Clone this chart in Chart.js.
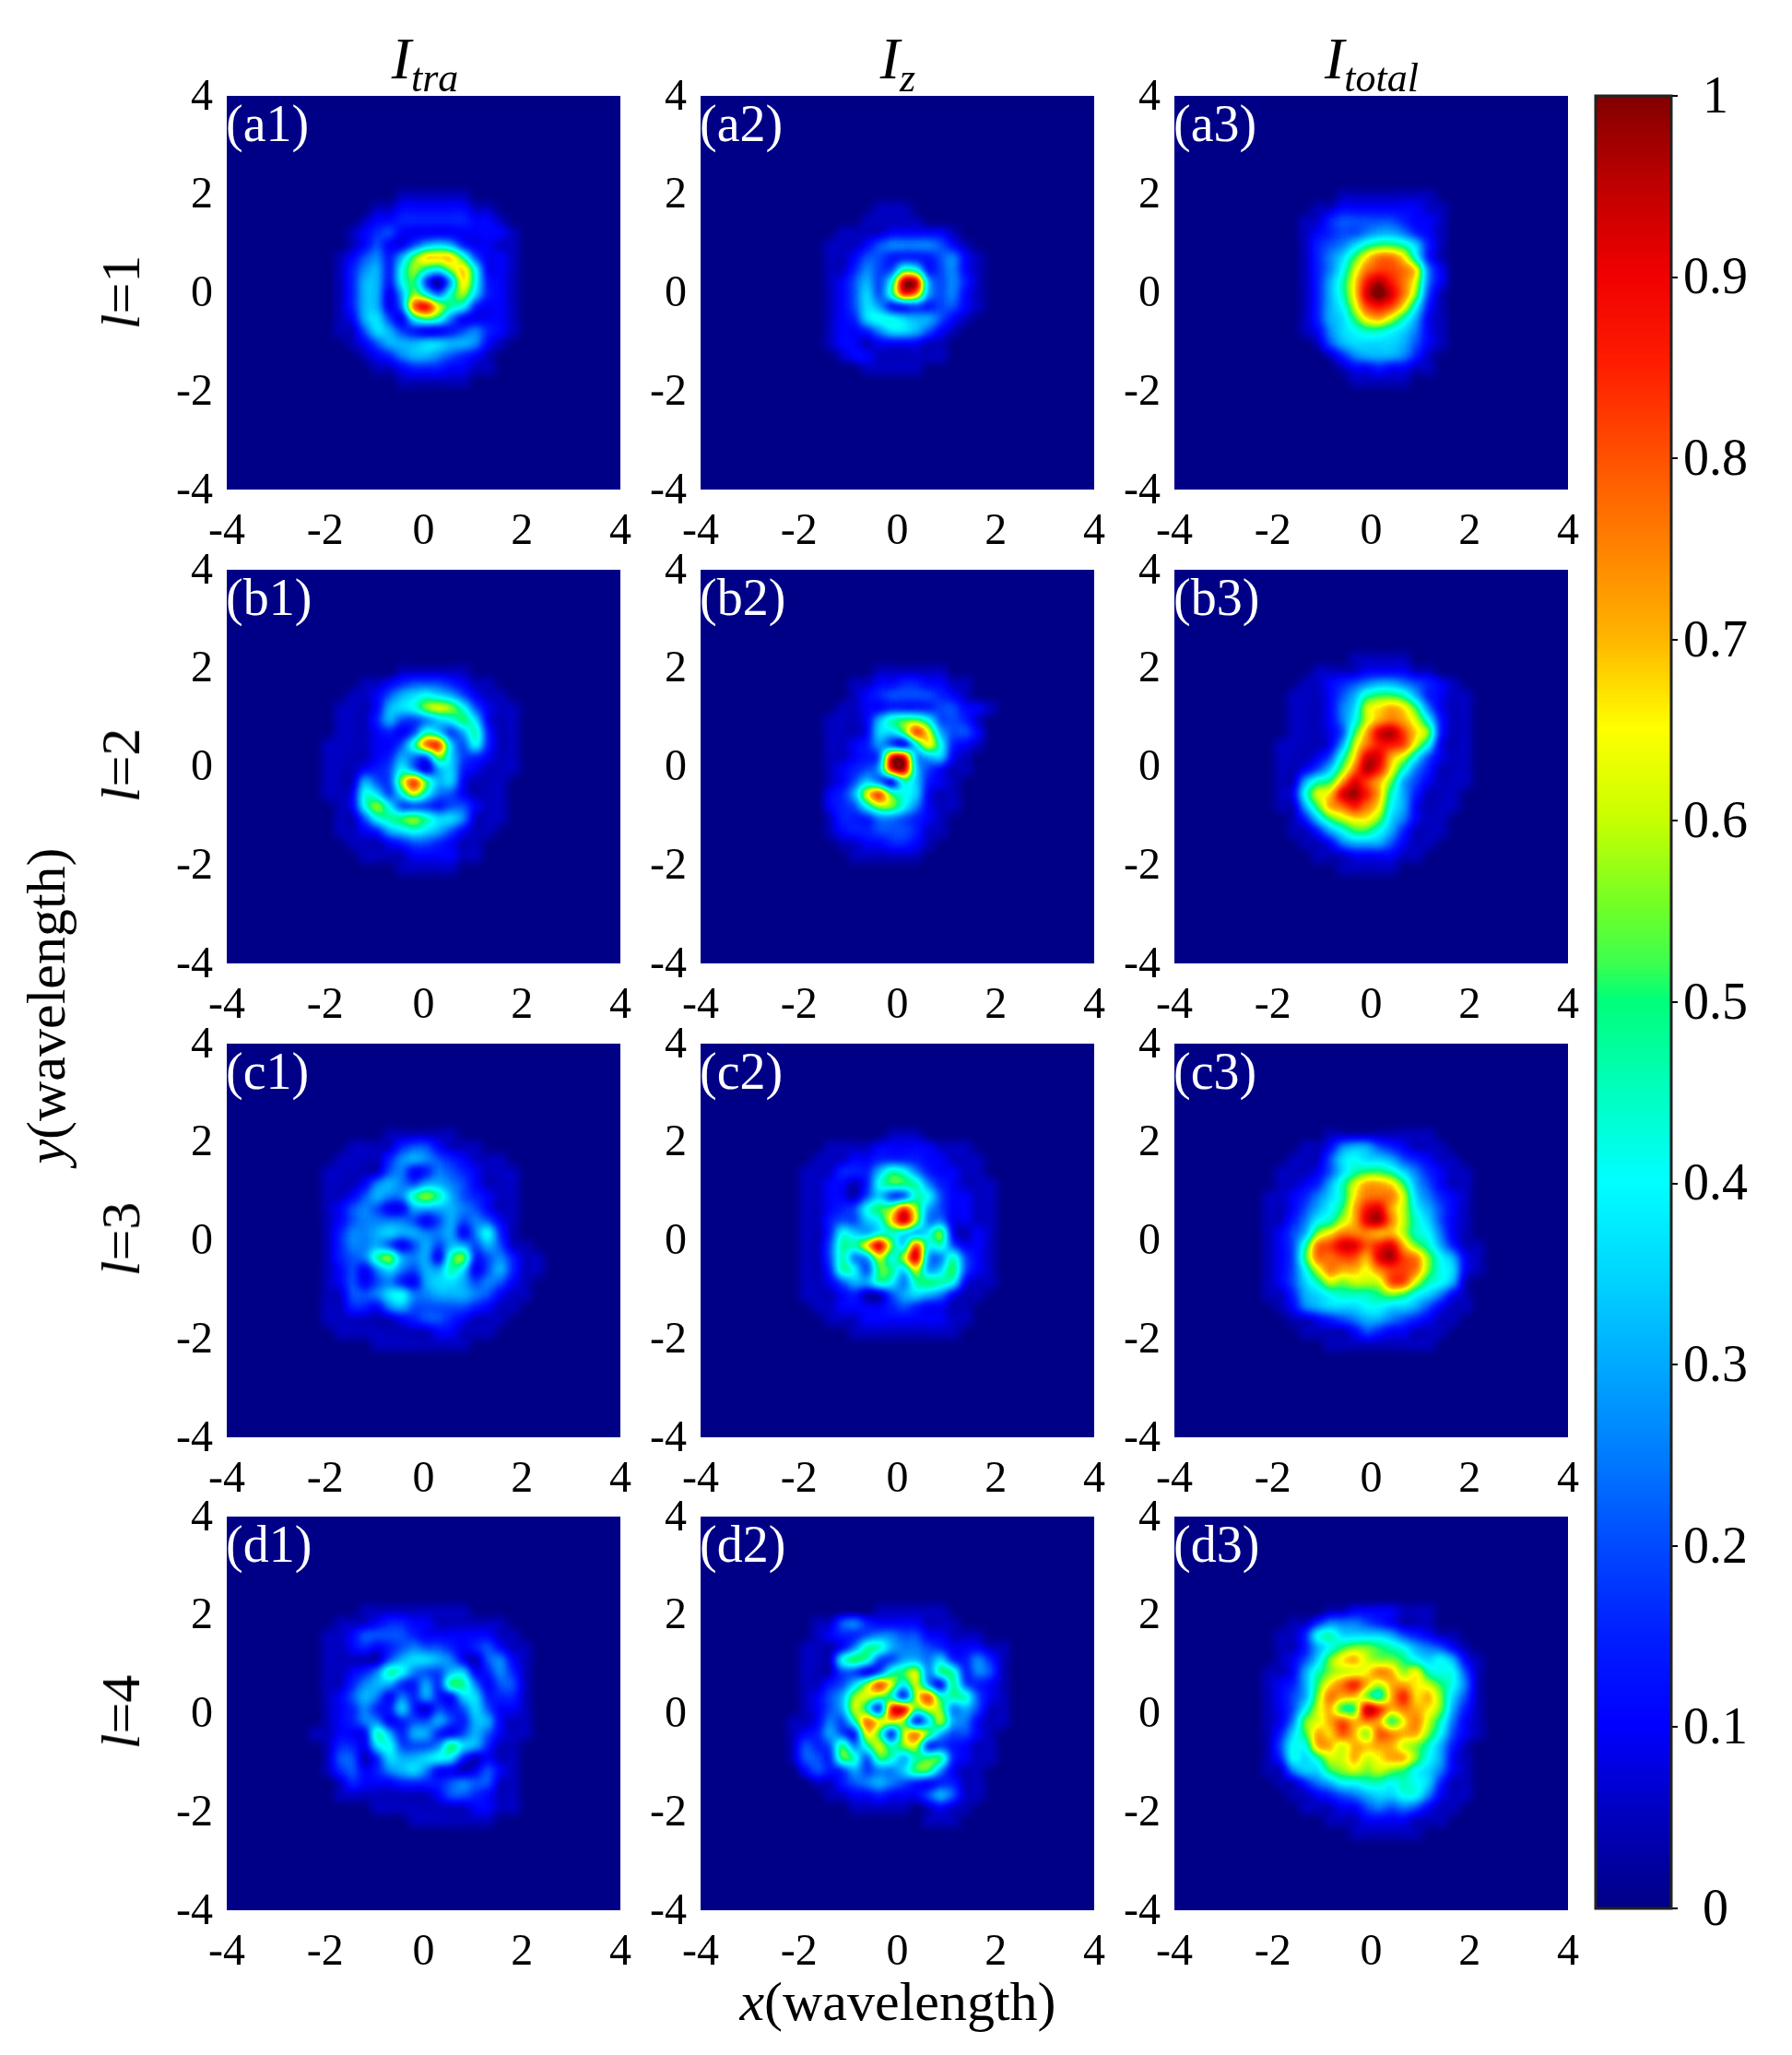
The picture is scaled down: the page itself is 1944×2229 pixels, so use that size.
<!DOCTYPE html>
<html lang="en">
<head>
<meta charset="UTF-8">
<title>Intensity maps</title>
<script src="https://cdn.jsdelivr.net/npm/chart.js"></script>
<style>
  body { margin: 0; background: #fff; width: 1944px; height: 2229px; position: relative; overflow: hidden;
         font-family: "Liberation Serif", serif; color: #000; }
  canvas { position: absolute; }
  .txt { position: absolute; white-space: nowrap; font-size: 60px; line-height: 1; transform: translate(-50%, -50%); }
  .head { font-size: 64px; }
  .rot { transform: translate(-50%, -50%) rotate(-90deg); }
  .tag { position: absolute; color: #fff; font-size: 56px; line-height: 1; transform: translateY(-50%); }
  sub { font-size: 44px; line-height: 0; }
</style>
</head>
<body>
<script>
// each row is y = 2.5 ... -2.5, each character x = -2.5 ... 2.5 (step 0.25)
// character = intensity in steps of 0.05: 0-9 then a-k (k = 1)
const a1 = ["000000000000000000000","000000000000000000000","000000001111110000000","000000112222221100000","000001223333332210000","000012342222222221000","000012422467632211000","000124536addd94221000","000135638b98bd8221000","000136638a416d8321000","000136626b859b7321000","000136625fhc983221000","0001267428a9522221000","000114764322345321000","000012466677665210000","000001235665432100000","000000112333221100000","000000001111110000000"];
const a2 = ["000000000000000000000","000000000000000000000","000000000000000000000","000000001110000000000","000000011111000000000","000001111222221000000","000011124555542100000","000011244333345210000","000011354498345210000","0000124648ii645310000","0000124749ge645210000","000012476334344210000","000012378876642100000","000012235776421000000","000012212222110000000","000001221111110000000","000000011111000000000"];
const a3 = ["000000000000000000000","000000000000000000000","000000011111111000000","000001122222221100000","000011344444322100000","000012344566532100000","0000134579aa973100000","00001357adffd83100000","00001358cfggfd5200000","00001369dhjhfc5200000","00001369dikifb4100000","00001368cghgd83100000","00001367adec962100000","000012578998752100000","000001467777642100000","000000135666531000000","000000012232211000000","000000001111100000000"];
const b1 = ["000000000000000000000","000000000000000000000","000000001111110000000","000001123444321100000","000011246787642110000","0001112678bcb84211000","0001113644578a7211000","000111232497469311000","0011112249fg748311000","00111123654b743211000","001112348526732111000","00111644bga6721110000","001128748c85421110000","000128b84443442110000","00011489ab97751110000","000112367876421100000","000011123443211000000","000001111222211000000","000000001111100000000"];
const b2 = ["000000000000000000000","000000000000000000000","000000001111110000000","000000112233221100000","000000123444432100000","000001122333344221000","0000111269aa844310000","0000111277agc64420000","000011236428d83210000","000011234hi6672100000","000012346hi7421100000","000012475297321000000","0000236cga87211000000","00002348bb85211000000","000013335543210000000","000012334443110000000","000001122332100000000","000000111111000000000"];
const b3 = ["000000000000000000000","000000001111100000000","000001111222211000000","000011234566543210000","0001112469aa963211000","000111257cdeda5211000","000111258cefec8311000","00011124aeijgdb311000","00111126cfhhgc8211000","00111249diiec84211000","0011247bfjhd953111000","001169aeigeb642111000","00128cdijhe9631110000","00116aefhfd8621110000","000137acddb7521100000","00011368aa86311100000","000011256664211000000","000001112222110000000","000000011111000000000"];
const c1 = ["000000000000000000000","000000011111100000000","000011113442111000000","000111135654321110000","001111145235432111000","001112565466542111000","0011246559b9643211000","001245422666654211000","001245555424645421000","001355676655625831000","001355642464664641100","0013459b65629b3453110","001242575466972463110","001242453267764542100","001144578556665421100","001133256444443211000","001111112344321110000","000111111112211100000","000000111111110000000"];
const c2 = ["000000000000000000000","000000000111000000000","000011112222211100000","000111223333221110000","001113336985322110000","001122138aa9532111000","001122147449842211000","00112348abgb642211000","001134478dic552211000","0011387689868b2121000","0011499dib7g894221000","00114956c8ci659421000","00113984aa7c67a421000","001124669859a98211000","001112311467652110000","000112222343221100000","000011122222221100000","000000111111111000000"];
const c3 = ["000000000000000000000","000000111111111000000","000011256643211100000","000111478776432110000","001112479aa9753211000","00112369ceeda64211000","01123579dfffc75321000","0112468aehiec86421000","0113589ceijfc97421000","01246bdfffeec98521000","01249fgiighieb9631100","0124affggeijgfb862100","01248cfeedfggfb872100","012479cbcccggc9861000","0113678999aba87521000","001256777887764211000","000112345665432110000","000011112432211100000","000000111111111000000"];
const d1 = ["000000000000000000000","000001111111110000000","000111233221111110000","001124444322222211000","001123234544323421100","001111146776521452100","001123598544672353100","001135663363a95244100","001246525363277333100","001235337314347422100","001235523446436621100","011222963663246421100","001332784445a76311000","001441376678731211000","001342356752212421000","000132223333454411000","000111111112443211000","000000111111112211000","000000000111111100000"];
const d2 = ["000000000000000000000","000000001111110000000","000114532222111000000","000123345544221110000","001112599655432221100","001118a94466573353100","0011144249ac5a9354100","0011347bgc8c62a432100","001246bcb93cg99942100","001246c93hiacb5641100","0112549fddb37c6521100","0123643da3cfb64421000","01434a59c9bc343211000","01443a94a969aa3211000","00243364557aa52110000","000113456543233110000","000011223222464110000","000000111110121100000","000000000000111000000"];
const d3 = ["000000000000000000000","000000112222111000000","000113555432111000000","001138977776432110000","0011368abba9865421000","001247bdecbba87862100","011269bccdfebd9884100","01236adfheceedca85100","01246bfeeb9ehdeb74100","01248ceaajhefedb63100","0125bcegefeadfc952100","0137aedgebgfeeb842100","01488eeceeeecb9631000","013879ccecdeeb8621000","011577abcbcba87521000","001135688998987311000","000112345677885211000","000011122454542110000","000000111222211100000","000000001111110000000"];

const panels = [[a1,a2,a3],[b1,b2,b3],[c1,c2,c3],[d1,d2,d3]];
const panelTags = [["(a1)","(a2)","(a3)"],["(b1)","(b2)","(b3)"],["(c1)","(c2)","(c3)"],["(d1)","(d2)","(d3)"]];
const rowLabels = ["l=1","l=2","l=3","l=4"];
const colTitles = [["I","tra"],["I","z"],["I","total"]];
const colorTicks = [0,0.1,0.2,0.3,0.4,0.5,0.6,0.7,0.8,0.9,1];
// where the cell grid sits in each column / row of panels
const gridX0 = [-2.434,-2.36,-2.33];
const gridY0 = [2.46,2.434,2.39,2.33];

// colour scale
const scaleStops = [0,0.05,0.1,0.15,0.2,0.25,0.3,0.35,0.4,0.45,0.5,0.52,0.55,0.6,0.65,0.7,0.75,0.8,0.85,0.9,0.95,1];
const scaleColors = [[0,0,135],[0,0,190],[0,0,255],[0,30,255],[0,75,255],[0,125,255],[0,170,255],[0,215,255],[0,255,255],[0,255,190],[0,255,120],[60,255,80],[110,255,40],[200,255,0],[255,255,0],[255,180,0],[255,130,0],[255,80,0],[255,30,0],[240,0,0],[190,0,0],[128,0,0]];

function colorAt(v) {
  let i = 0;
  while (i < scaleStops.length - 2 && v > scaleStops[i + 1]) i++;
  const t = Math.min(1, Math.max(0, (v - scaleStops[i]) / (scaleStops[i + 1] - scaleStops[i])));
  return scaleColors[i].map((c, k) => Math.round(c + (scaleColors[i + 1][k] - c) * t));
}
const lut = Array.from({ length: 256 }, (_, g) => colorAt(g / 255));

const colX = [246, 760, 1274];
const rowY = [104, 618, 1132, 1645];
const plotSize = 427;
const padL = 110, padT = 40, padR = 50, padB = 80;

function blurred(source, w, h, radius) {
  const out = document.createElement('canvas');
  out.width = w; out.height = h;
  const octx = out.getContext('2d', { willReadFrequently: true });
  octx.drawImage(source, 0, 0);       // keeps the edges from fading to nothing
  octx.filter = `blur(${radius}px)`;
  octx.drawImage(source, 0, 0);
  return octx.getImageData(0, 0, w, h).data;
}

// cells are painted as grey levels, then smoothed, sharpened a little and coloured like an interpolated image
const heatPlugin = {
  id: 'heat',
  beforeDatasetsDraw(chart) {
    const a = chart.chartArea, ctx = chart.ctx;
    ctx.save();
    ctx.fillStyle = '#000';
    ctx.fillRect(a.left, a.top, a.width, a.height);
    ctx.restore();
  },
  afterDatasetsDraw(chart) {
    const a = chart.chartArea, ctx = chart.ctx;
    const w = Math.round(a.width), h = Math.round(a.height);
    const tmp = document.createElement('canvas');
    tmp.width = w; tmp.height = h;
    tmp.getContext('2d').drawImage(chart.canvas, a.left, a.top, w, h, 0, 0, w, h);
    const soft = blurred(tmp, w, h, 6);
    const wide = blurred(tmp, w, h, 12);
    const img = ctx.getImageData(a.left, a.top, w, h);
    for (let i = 0; i < img.data.length; i += 4) {
      const g = soft[i] + 0.7 * (soft[i] - wide[i]);
      const c = lut[Math.max(0, Math.min(255, Math.round(g)))];
      img.data[i] = c[0]; img.data[i + 1] = c[1]; img.data[i + 2] = c[2]; img.data[i + 3] = 255;
    }
    ctx.putImageData(img, a.left, a.top);
  }
};

function cells(rows, x0, y0) {
  const pts = [];
  rows.forEach((row, r) => {
    for (let c = 0; c < row.length; c++) {
      const v = parseInt(row[c], 36) / 20;
      if (v > 0) pts.push({ x: x0 + 0.25 * c, y: y0 - 0.25 * r, v });
    }
  });
  return pts;
}

function addCanvas(left, top, w, h) {
  const cv = document.createElement('canvas');
  cv.width = w; cv.height = h;
  cv.style.left = left + 'px'; cv.style.top = top + 'px';
  cv.style.width = w + 'px'; cv.style.height = h + 'px';
  document.body.appendChild(cv);
  return cv;
}

function addText(cls, left, top, html) {
  const el = document.createElement('div');
  el.className = cls;
  el.style.left = left + 'px'; el.style.top = top + 'px';
  el.innerHTML = html;
  document.body.appendChild(el);
}

const axisBase = {
  type: 'linear', min: -4, max: 4,
  grid: { display: false }, border: { display: false },
};
const tickFont = { family: 'Liberation Serif', size: 48 };

panels.forEach((row, r) => row.forEach((rows, c) => {
  const cv = addCanvas(colX[c] - padL, rowY[r] - padT, plotSize + padL + padR, plotSize + padT + padB);
  new Chart(cv, {
    type: 'scatter',
    data: { datasets: [{
      data: cells(rows, gridX0[c], gridY0[r]),
      pointStyle: 'rect',
      pointRadius: 10.2,
      pointBorderWidth: 0,
      pointBackgroundColor: ctx => {
        const g = Math.round(ctx.raw.v * 255);
        return `rgb(${g},${g},${g})`;
      },
    }] },
    options: {
      responsive: false, animation: false, devicePixelRatio: 1,
      layout: { padding: { top: padT, right: padR, left: 0, bottom: 0 } },
      plugins: { legend: { display: false }, tooltip: { enabled: false } },
      scales: {
        x: { ...axisBase, ticks: { stepSize: 2, color: '#000', font: tickFont, maxRotation: 0, autoSkip: false, padding: 10 },
             afterFit: s => { s.height = padB; } },
        y: { ...axisBase, ticks: { stepSize: 2, color: '#000', font: tickFont, autoSkip: false, padding: 7, labelOffset: 2 },
             afterFit: s => { s.width = padL; } },
      },
    },
    plugins: [heatPlugin],
  });
  addText('tag', colX[c] - 1, rowY[r] + 30, panelTags[r][c]);
}));

// colour bar (Chart.js paints the first dataset last, so each bar runs up from 0)
const barStep = 1 / 400;
const barLevels = Array.from({ length: 400 }, (_, i) => i * barStep);
const barCv = addCanvas(1692, 64, 252, 2046);
new Chart(barCv, {
  type: 'bar',
  data: {
    labels: [''],
    datasets: barLevels.map(v => ({
      data: [[0, v + barStep]],
      backgroundColor: `rgb(${colorAt(v).join(',')})`,
      borderWidth: 0,
      barPercentage: 1,
      categoryPercentage: 1,
    })),
  },
  options: {
    responsive: false, animation: false, devicePixelRatio: 1,
    layout: { padding: { top: 40, bottom: 40, left: 39, right: 0 } },
    plugins: { legend: { display: false }, tooltip: { enabled: false } },
    scales: {
      x: { display: false, stacked: true },
      y: {
        type: 'linear', position: 'right', min: 0, max: 1,
        afterBuildTicks: s => { s.ticks = colorTicks.map(value => ({ value })); },
        grid: { drawOnChartArea: false, color: '#000', lineWidth: 2, tickLength: 7 },
        border: { display: false },
        ticks: { color: '#000', font: { family: 'Liberation Serif', size: 56 }, crossAlign: 'center', padding: 6, labelOffset: 3,
                  callback: v => String(v) },
        afterFit: s => { s.width = 131; },
      },
    },
  },
  plugins: [{
    id: 'frame',
    afterDatasetsDraw(chart) {
      const a = chart.chartArea, ctx = chart.ctx;
      ctx.save();
      ctx.strokeStyle = '#222';
      ctx.lineWidth = 3;
      ctx.strokeRect(a.left, a.top, a.width, a.height);
      ctx.restore();
    },
  }],
});

// titles and axis names
const colCenter = [461, 974, 1488];
colTitles.forEach((t, c) => addText('txt head', colCenter[c], 64, `<i>${t[0]}</i><sub><i>${t[1]}</i></sub>`));
const rowCenter = [317, 830, 1344, 1857];
rowLabels.forEach((t, r) => addText('txt rot', 131, rowCenter[r], `<i>l</i>${t.slice(1)}`));
addText('txt', 974, 2171, '<i>x</i>(wavelength)');
addText('txt rot', 50, 1091, '<i>y</i>(wavelength)');
</script>
</body>
</html>
